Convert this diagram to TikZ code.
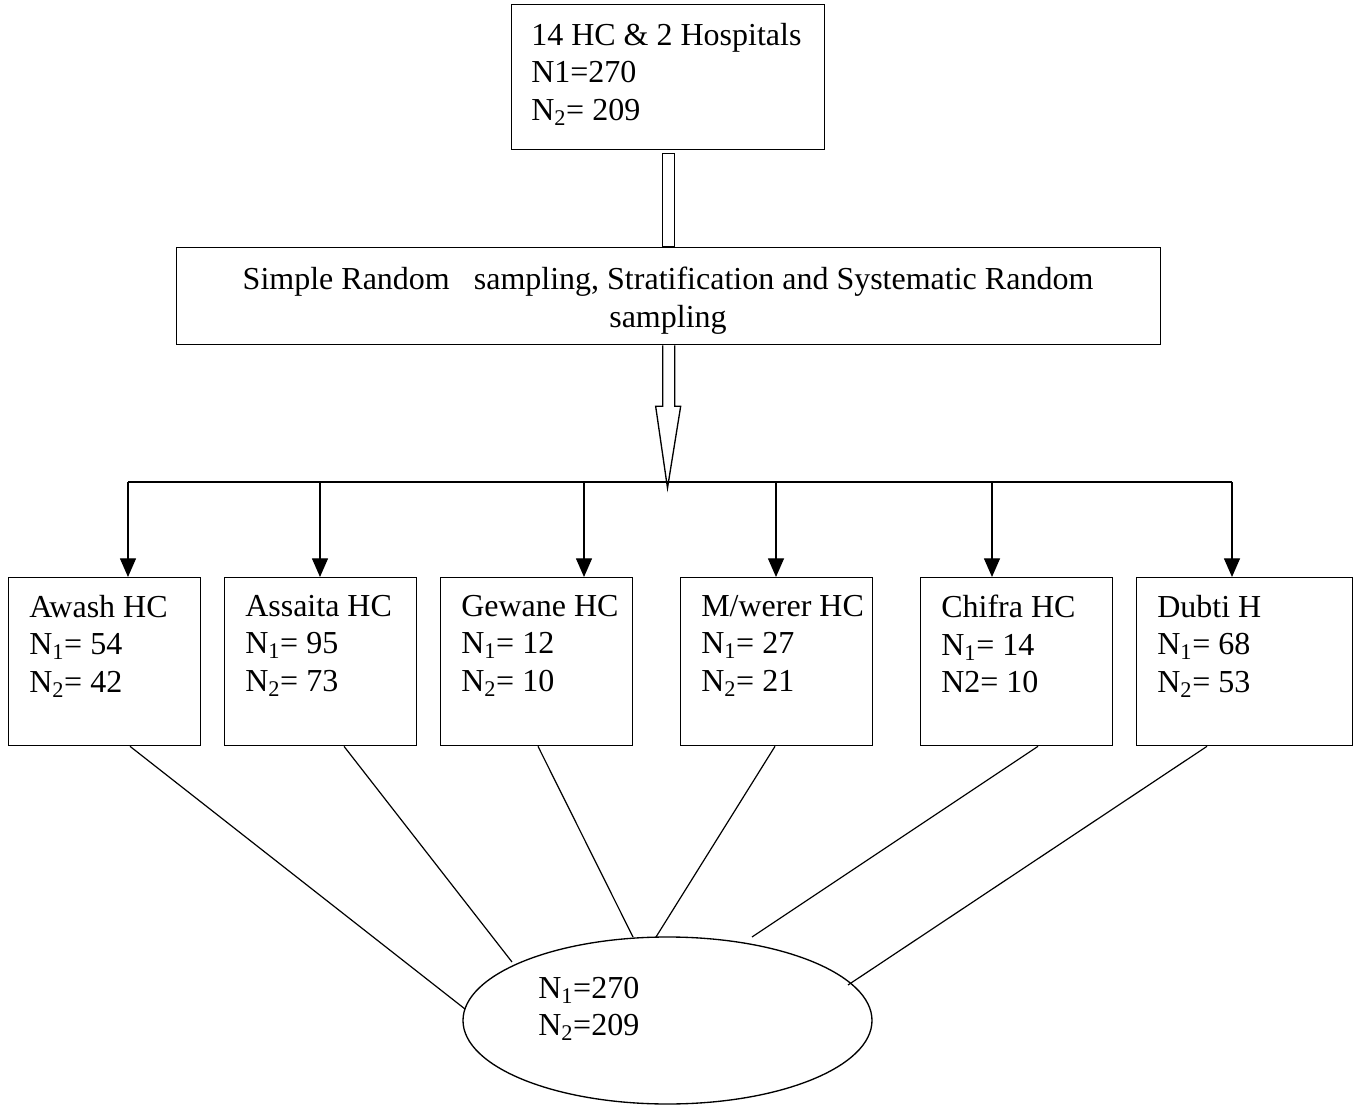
\documentclass[tikz,border=0pt]{standalone}
\usepackage{fontspec}
\setmainfont{Liberation Serif}
\usetikzlibrary{calc,arrows.meta,shapes.geometric}
\begin{document}
\begin{tikzpicture}[x=0.75pt,y=-0.75pt,
  box/.style={draw,line width=1pt,inner sep=0pt,anchor=north west},
  txt/.style={inner sep=0pt,anchor=north west,align=left,font=\fontsize{24}{28}\selectfont},
  link/.style={line width=0.9pt},
  arr/.style={line width=1pt,-{Triangle[length=14pt,width=12pt]}},
  dbl/.style={draw,line width=1pt,fill=white}]
\useasboundingbox (0,0) rectangle (1354,1105);
% top box
\node[box,minimum width=313*0.75pt,minimum height=145*0.75pt] (top) at (511,4) {};
\node[txt] (topt) at (531,23) {14 HC \& 2 Hospitals\\N1=270\\N\textsubscript{2}= 209};
% middle box
\node[box,minimum width=984*0.75pt,minimum height=97*0.75pt] (mid) at (176,247) {};
\node[inner sep=0pt,anchor=north,align=center,font=\fontsize{24}{28}\selectfont] (midt) at (668,267)
  {Simple Random\ \ \ sampling, Stratification and Systematic Random\\sampling};
% double shaft from top box to middle box
\draw[dbl] ($(top.south)+(-5.5,3)$) rectangle ($(mid.north)+(5.5,0)$);
% hollow arrow below middle box
\coordinate (tip) at (667.5,488);
\draw[dbl] ($(mid.south)+(-6,0)$) -- ++(0,61) -- ++(-7,0) -- (tip) -- ($(mid.south)+(12,61)$) -- ++(-6,0) -- ($(mid.south)+(6,0)$);
% bottom boxes
\foreach \n/\x in {aw/8,as/224,ge/440,mw/680,ch/920}{
  \node[box,minimum width=192*0.75pt,minimum height=168*0.75pt] (\n) at (\x,577) {};
}
\node[box,minimum width=216*0.75pt,minimum height=168*0.75pt] (du) at (1136,577) {};
\node[txt] (awt) at ($(aw.north west)+(21,18)$) {Awash HC\\N\textsubscript{1}= 54\\N\textsubscript{2}= 42};
\node[txt] (ast) at ($(as.north west)+(21,18)$) {Assaita HC\\N\textsubscript{1}= 95\\N\textsubscript{2}= 73};
\node[txt] (get) at ($(ge.north west)+(21,18)$) {Gewane HC\\N\textsubscript{1}= 12\\N\textsubscript{2}= 10};
\node[txt] (mwt) at ($(mw.north west)+(21,18)$) {M/werer HC\\N\textsubscript{1}= 27\\N\textsubscript{2}= 21};
\node[txt] (cht) at ($(ch.north west)+(21,18)$) {Chifra HC\\N\textsubscript{1}= 14\\N2= 10};
\node[txt] (dut) at ($(du.north west)+(21,18)$) {Dubti H\\N\textsubscript{1}= 68\\N\textsubscript{2}= 53};
% distribution bar
\coordinate (bl) at (128,482);
\coordinate (br) at (1232,482);
\draw[link] (bl) -- (br);
\draw[arr] (bl) -- (bl |- aw.north);
\draw[arr] (320,482) -- (320,577 |- as.north);
\draw[arr] (584,482) -- (584,577 |- ge.north);
\draw[arr] (776,482) -- (776,577 |- mw.north);
\draw[arr] (992,482) -- (992,577 |- ch.north);
\draw[arr] (br) -- (br |- du.north);
% ellipse
\node[draw,ellipse,line width=1pt,minimum width=409*0.75pt,minimum height=167*0.75pt,inner sep=0pt] (ell) at (667.5,1020.5) {};
\node[txt] (ellt) at (538,977) {N\textsubscript{1}=270\\N\textsubscript{2}=209};
% lines to ellipse
\coordinate (e1) at (465,1009);
\coordinate (e2) at (512,962);
\coordinate (e3) at (633,937);
\coordinate (e4) at (656,937);
\coordinate (e5) at (752,937);
\coordinate (e6) at (848,985);
\draw[link] ($(aw.south west)+(122,0)$) -- (e1);
\draw[link] ($(as.south west)+(120,0)$) -- (e2);
\draw[link] ($(ge.south west)+(98,0)$) -- (e3);
\draw[link] ($(mw.south west)+(95,0)$) -- (e4);
\draw[link] ($(ch.south west)+(118,0)$) -- (e5);
\draw[link] ($(du.south west)+(71,0)$) -- (e6);
\end{tikzpicture}
\end{document}
